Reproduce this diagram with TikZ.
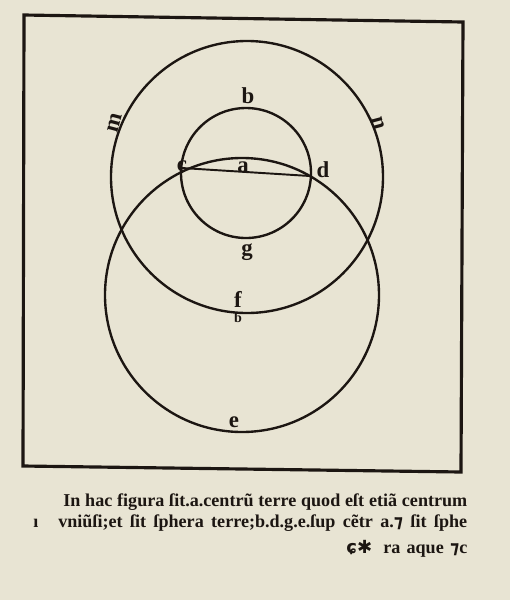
\documentclass[tikz,border=0pt]{standalone}
\usepackage{fontspec}
\usepackage{xcolor}
\setmainfont{Liberation Serif}
\newfontfamily\symfont{DejaVu Sans}

\definecolor{paper}{RGB}{232,228,211}
\definecolor{ink}{RGB}{28,22,18}

\begin{document}
\begin{tikzpicture}[
    x=0.02cm, y=-0.02cm,
    orb/.style={draw=ink, line width=1.35pt},
    letter/.style={font=\bfseries\fontsize{13}{13}\selectfont, text=ink, inner sep=0pt},
    textline/.style={font=\bfseries\fontsize{10.3}{12}\selectfont, text=ink, inner sep=0pt, anchor=base west},
]

% Paper
\fill[paper] (0,0) rectangle (510,600);

% Frame
\draw[ink, line width=1.8pt] (24,15) -- (463,22) -- (461,472) -- (23,466) -- cycle;

% Spheres
\draw[orb] (247,177) circle (136);
\draw[orb] (246,173) circle (65);
\draw[orb] (242,295) circle (137);

% Diameter c--d
\coordinate (c) at (182,168);
\coordinate (d) at (310,176);
\draw[orb, line width=1.1pt] (c) -- (d);

% Letters
\node[letter] (lb) at (248,96) {b};
\node[letter, rotate=75] (lm) at (115,123) {m};
\node[letter, rotate=-75] (ln) at (378,123) {n};
\node[letter] (lc) at (182,166) {c};
\node[letter] (la) at (243,167) {a};
\node[letter] (ld) at (323,170) {d};
\node[letter] (lg) at (247,252) {g};
\node[letter] (lf) at (238,299) {f};
\node[letter, font=\bfseries\fontsize{8}{8}\selectfont] (lb2) at (238,318) {b};
\node[letter] (le) at (234,422) {e};

% Caption
\node[textline] (t1) at (63,506) {\makebox[8.08cm][s]{In hac figura ſit.a.centrũ terre quod eſt etiã centrum}};
\node[textline] (t0) at (33,527) {ı};
\node[textline] (t2) at (58,527) {\makebox[8.18cm][s]{vniũſi;et ſit ſphera terre;b.d.g.e.ſup cẽtr a.{\symfont ⁊} ſit ſphe}};
\node[textline] (t3) at (346,553) {{\symfont ɕ✱}};
\node[textline] (t4) at (383,553) {\makebox[1.68cm][s]{ra aque {\symfont ⁊}c}};

\end{tikzpicture}
\end{document}
